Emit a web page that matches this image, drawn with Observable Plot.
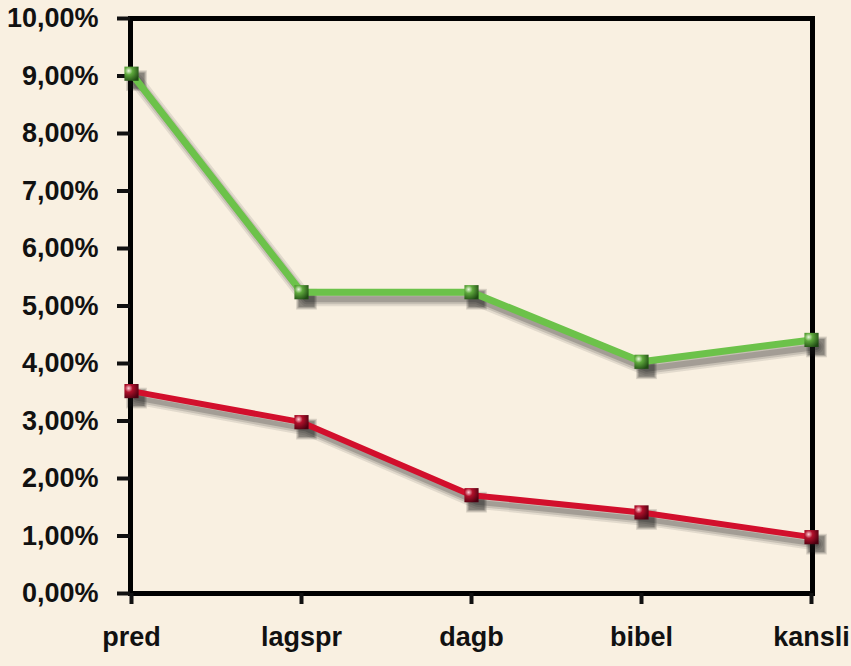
<!DOCTYPE html>
<html><head><meta charset="utf-8">
<script src="https://cdn.jsdelivr.net/npm/d3@7"></script>
<script src="https://cdn.jsdelivr.net/npm/@observablehq/plot@0.6"></script>
<style>
html,body{margin:0;padding:0;background:#f9f0e1;}
</style>
</head><body><div id="chart"></div>
<script>
const categories = ["pred", "lagspr", "dagb", "bibel", "kansli"];
const greenValues = [9.04, 5.24, 5.24, 4.03, 4.41];
const redValues = [3.52, 2.98, 1.71, 1.41, 0.98];
const yTicks = [0,1,2,3,4,5,6,7,8,9,10];

const data = [
  ...categories.map((c,i)=>({cat:c, v:greenValues[i], s:"green"})),
  ...categories.map((c,i)=>({cat:c, v:redValues[i], s:"red"}))
];
const green = data.filter(d=>d.s==="green");
const red = data.filter(d=>d.s==="red");

const fmt = d => d.toFixed(2).replace(".", ",") + "%";

const shadowLayers = [[14, 0.10], [10, 0.14], [6, 0.2]];
const shadowMarks = [];
for (const [w, o] of shadowLayers) {
  shadowMarks.push(Plot.line(green, {x: "cat", y: "v", stroke: "#1a1a1a", strokeWidth: w, strokeOpacity: o, dx: 5, dy: 7}));
  shadowMarks.push(Plot.line(red, {x: "cat", y: "v", stroke: "#1a1a1a", strokeWidth: w - 1, strokeOpacity: o, dx: 5, dy: 7}));
  shadowMarks.push(Plot.dot(data, {x: "cat", y: "v", symbol: "square", r: 7 + w / 3, fill: "#111", fillOpacity: o + 0.05, dx: 5, dy: 7}));
}

const plot = Plot.plot({
  width: 851, height: 666,
  marginLeft: 130, marginRight: 39, marginTop: 18, marginBottom: 73,
  style: {background: "#f9f0e1", fontFamily: "'Liberation Sans', Arial, sans-serif", fontSize: "27px", fontWeight: "bold", color: "#111"},
  x: {type: "point", domain: categories, padding: 0},
  y: {domain: [0, 10]},
  marks: [
    Plot.frame({stroke: "#000", strokeWidth: 5}),
    Plot.axisY({ticks: yTicks, tickFormat: fmt, tickSize: 13, tickPadding: 19, strokeWidth: 4, label: null, fontSize: 27, fontWeight: "bold"}),
    Plot.axisX({tickSize: 11, tickPadding: 22, strokeWidth: 4, label: null, fontSize: 27, fontWeight: "bold"}),
    ...shadowMarks,
    Plot.line(green, {x: "cat", y: "v", stroke: "#6cc24a", strokeWidth: 7}),
    Plot.line(red, {x: "cat", y: "v", stroke: "#d20f2c", strokeWidth: 6}),
    Plot.dot(green, {x: "cat", y: "v", symbol: "square", r: 8, fill: "url(#gGreen)"}),
    Plot.dot(red, {x: "cat", y: "v", symbol: "square", r: 8, fill: "url(#gRed)"})
  ]
});

const svg = d3.select(plot);
const defs = svg.insert("defs", ":first-child");
function grad(id, light, mid, dark){
  const g = defs.append("radialGradient").attr("id", id).attr("cx","30%").attr("cy","30%").attr("r","80%");
  g.append("stop").attr("offset","0%").attr("stop-color", light);
  g.append("stop").attr("offset","35%").attr("stop-color", mid);
  g.append("stop").attr("offset","100%").attr("stop-color", dark);
}
grad("gGreen", "#e8f7dc", "#5ea83c", "#1f4a14");
grad("gRed", "#ffd0d8", "#b0102a", "#4a0010");
document.getElementById("chart").appendChild(plot);
</script>
</body></html>
